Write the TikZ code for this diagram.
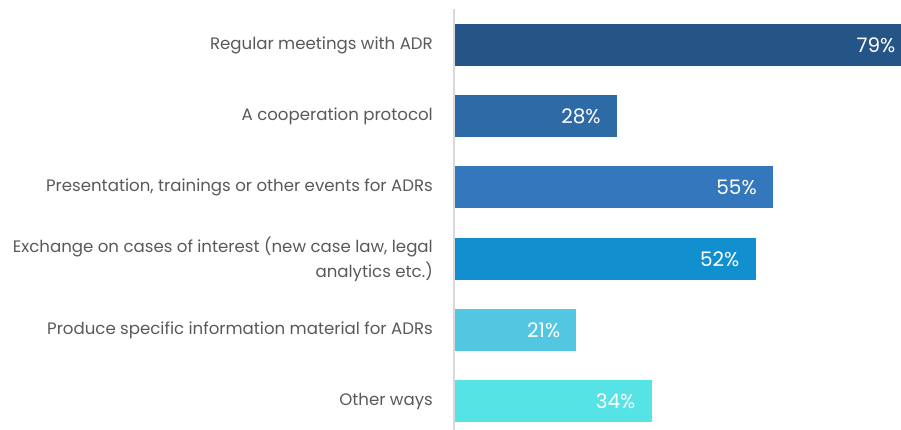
\documentclass[tikz,border=0pt]{standalone}
\usepackage{fontspec}
\setmainfont{Poppins}
\usepackage{tikz}
\usetikzlibrary{positioning}
\definecolor{txtgrey}{RGB}{89,89,89}
\definecolor{axisgrey}{RGB}{217,217,217}
\definecolor{barA}{RGB}{37,85,134}
\definecolor{barB}{RGB}{46,107,166}
\definecolor{barC}{RGB}{53,119,188}
\definecolor{barD}{RGB}{17,143,207}
\definecolor{barE}{RGB}{83,198,225}
\definecolor{barF}{RGB}{85,227,230}
\tikzset{
	barnode/.style={rectangle, anchor=west, minimum height=42pt, inner sep=0pt, outer sep=0pt},
	catnode/.style={anchor=east, align=right, text=txtgrey, inner sep=0pt, font=\fontsize{16.6}{25}\selectfont},
	valnode/.style={text=white, inner sep=0pt, font=\fontsize{20}{22}\selectfont}
}

\begin{document}
\begin{tikzpicture}[x=1pt, y=-1pt]
		\clip (0,0) rectangle (901,430);
		\coordinate (axtop) at (454,9);
		\coordinate (axbot) at (454,430);
		\draw[axisgrey, line width=1.5pt] (axtop) -- (axbot);
		
		\node[barnode, fill=barA, minimum width=456.6pt] at (455,45) (b1) {};
		\node[barnode, fill=barB, minimum width=161.8pt] at (455,116) (b2) {};
		\node[barnode, fill=barC, minimum width=317.9pt] at (455,187) (b3) {};
		\node[barnode, fill=barD, minimum width=300.6pt] at (455,259) (b4) {};
		\node[barnode, fill=barE, minimum width=121.4pt] at (455,330) (b5) {};
		\node[barnode, fill=barF, minimum width=196.5pt] at (455,401) (b6) {};
		
		\node[valnode, left=16pt of b1.east] (v1) {79\%};
		\node[valnode, left=16pt of b2.east] (v2) {28\%};
		\node[valnode, left=16pt of b3.east] (v3) {55\%};
		\node[valnode, left=16pt of b4.east] (v4) {52\%};
		\node[valnode, left=16pt of b5.east] (v5) {21\%};
		\node[valnode, left=16pt of b6.east] (v6) {34\%};
		
		\node[catnode] at (433,45) (c1) {Regular meetings with ADR};
		\node[catnode] at (433,116) (c2) {A cooperation protocol};
		\node[catnode] at (433,187) (c3) {Presentation, trainings or other events for ADRs};
		\node[catnode] at (433,259) (c4) {Exchange on cases of interest (new case law, legal\\analytics etc.)};
		\node[catnode] at (433,330) (c5) {Produce specific information material for ADRs};
		\node[catnode] at (433,401) (c6) {Other ways};
		
	\end{tikzpicture}
\end{document}
